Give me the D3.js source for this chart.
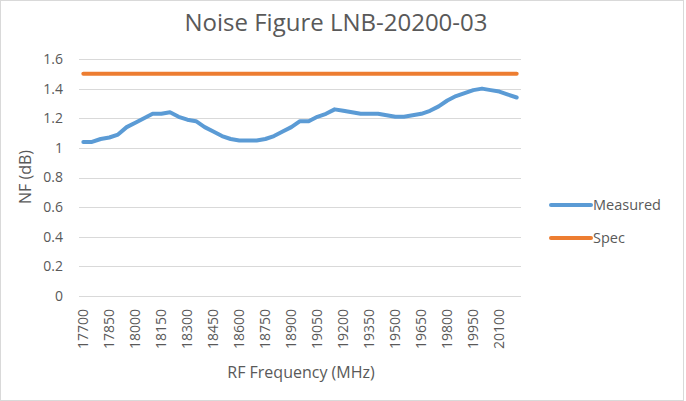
<!DOCTYPE html>
<html>
<head>
<meta charset="utf-8">
<script src="https://cdn.jsdelivr.net/npm/d3@7"></script>
<style>
  body { margin: 0; background: #fff; }
  text { font-family: "Open Sans", "Liberation Sans", sans-serif; fill: #595959; }
</style>
</head>
<body>
<div id="chart"></div>
<script>
// frequencies in MHz, one point every 50
var freqs = [17700, 17750, 17800, 17850, 17900, 17950, 18000, 18050, 18100, 18150,
    18200, 18250, 18300, 18350, 18400, 18450, 18500, 18550, 18600, 18650,
    18700, 18750, 18800, 18850, 18900, 18950, 19000, 19050, 19100, 19150,
    19200, 19250, 19300, 19350, 19400, 19450, 19500, 19550, 19600, 19650,
    19700, 19750, 19800, 19850, 19900, 19950, 20000, 20050, 20100, 20150, 20200];
var measured = [1.04, 1.04, 1.06, 1.07, 1.09, 1.14, 1.17, 1.20, 1.23, 1.23,
    1.24, 1.21, 1.19, 1.18, 1.14, 1.11, 1.08, 1.06, 1.05, 1.05,
    1.05, 1.06, 1.08, 1.11, 1.14, 1.18, 1.18, 1.21, 1.23, 1.26,
    1.25, 1.24, 1.23, 1.23, 1.23, 1.22, 1.21, 1.21, 1.22, 1.23,
    1.25, 1.28, 1.32, 1.35, 1.37, 1.39, 1.40, 1.39, 1.38, 1.36, 1.34];
var spec = freqs.map(function () { return 1.5; });
var yTicks = [0, 0.2, 0.4, 0.6, 0.8, 1, 1.2, 1.4, 1.6];

var series = [
    { name: 'Measured', values: measured, color: '#5B9BD5' },
    { name: 'Spec', values: spec, color: '#ED7D31' }
];

var W = 686, H = 401;
var plot = { left: 79, right: 521, top: 59, bottom: 296 };

var svg = d3.select('#chart').append('svg')
    .attr('width', W)
    .attr('height', H);

svg.append('rect')
    .attr('x', 0.5).attr('y', 0.5)
    .attr('width', W - 3).attr('height', H - 1)
    .attr('fill', '#fff')
    .attr('stroke', '#d9d9d9');

var x = d3.scaleBand()
    .domain(freqs)
    .range([plot.left, plot.right]);

var y = d3.scaleLinear()
    .domain([0, 1.6])
    .range([plot.bottom, plot.top]);

// gridlines
svg.append('g')
    .selectAll('line')
    .data(yTicks)
    .enter().append('line')
    .attr('x1', plot.left)
    .attr('x2', plot.right)
    .attr('y1', function (d) { return Math.round(y(d)) + 0.5; })
    .attr('y2', function (d) { return Math.round(y(d)) + 0.5; })
    .attr('stroke', '#d9d9d9')
    .attr('stroke-width', 1);

// y axis
var yAxis = d3.axisLeft(y)
    .tickValues(yTicks)
    .tickSize(0)
    .tickPadding(0)
    .tickFormat(d3.format('~g'));

var gy = svg.append('g')
    .attr('transform', 'translate(63,0)')
    .call(yAxis);
gy.select('.domain').remove();
gy.selectAll('text').style('font-size', '14px').attr('fill', '#595959');

// x axis, label every third category
var xAxis = d3.axisBottom(x)
    .tickValues(freqs.filter(function (d, i) { return i % 3 === 0; }))
    .tickSize(0)
    .tickPadding(0);

var gx = svg.append('g')
    .attr('transform', 'translate(0,' + plot.bottom + ')')
    .call(xAxis);
gx.select('.domain').remove();
gx.selectAll('text')
    .style('font-size', '14px')
    .attr('fill', '#595959')
    .attr('transform', 'rotate(-90)')
    .attr('x', -13)
    .attr('y', 0)
    .attr('dy', '0.35em')
    .style('text-anchor', 'end');

// lines
var line = d3.line()
    .x(function (d, i) { return x(freqs[i]) + x.bandwidth() / 2; })
    .y(function (d) { return y(d); });

svg.selectAll('.series')
    .data(series)
    .enter().append('path')
    .attr('class', 'series')
    .attr('d', function (d) { return line(d.values); })
    .attr('fill', 'none')
    .attr('stroke', function (d) { return d.color; })
    .attr('stroke-width', 4)
    .attr('stroke-linejoin', 'round')
    .attr('stroke-linecap', 'round');

// title
svg.append('text')
    .attr('x', 336)
    .attr('y', 31)
    .attr('text-anchor', 'middle')
    .style('font-size', '24px')
    .text('Noise Figure LNB-20200-03');

// axis titles
svg.append('text')
    .attr('transform', 'translate(31,177) rotate(-90)')
    .attr('text-anchor', 'middle')
    .style('font-size', '16px')
    .text('NF (dB)');

svg.append('text')
    .attr('x', 301)
    .attr('y', 378)
    .attr('text-anchor', 'middle')
    .style('font-size', '16px')
    .text('RF Frequency (MHz)');

// legend
var legend = svg.selectAll('.legend')
    .data(series)
    .enter().append('g')
    .attr('class', 'legend')
    .attr('transform', function (d, i) { return 'translate(551,' + (205 + i * 33) + ')'; });

legend.append('line')
    .attr('x1', 0).attr('x2', 40)
    .attr('stroke', function (d) { return d.color; })
    .attr('stroke-width', 4)
    .attr('stroke-linecap', 'round');

legend.append('text')
    .attr('x', 42)
    .attr('dy', '0.35em')
    .style('font-size', '14.5px')
    .text(function (d) { return d.name; });
</script>
</body>
</html>
